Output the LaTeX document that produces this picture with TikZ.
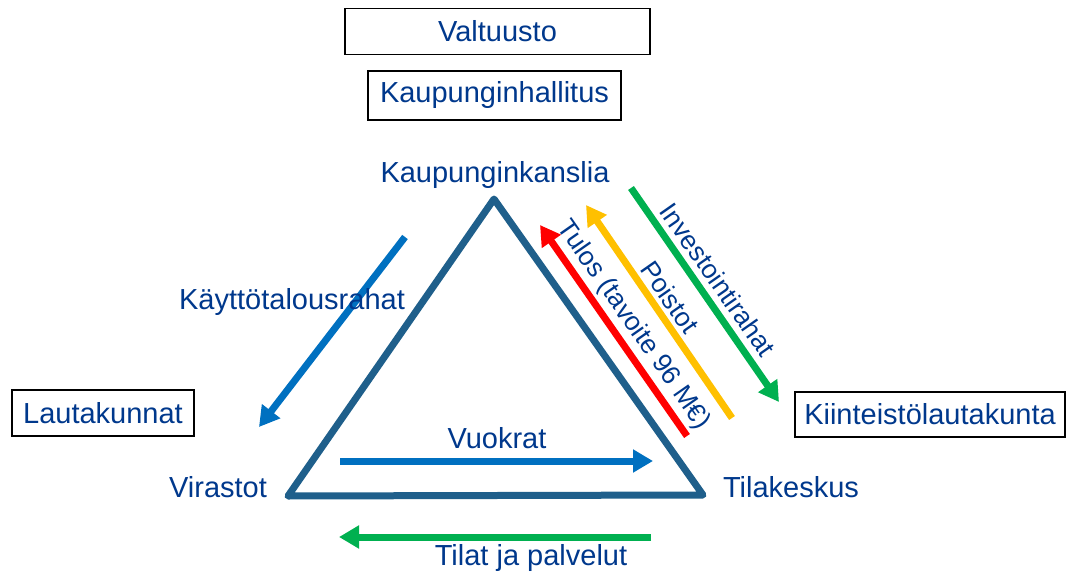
\documentclass[tikz,border=0pt]{standalone}
\usepackage{fontspec}
\setmainfont{Liberation Sans}
\usetikzlibrary{arrows.meta}
\definecolor{txtblue}{RGB}{0,56,140}
\definecolor{triblue}{RGB}{31,95,139}
\definecolor{arrblue}{RGB}{0,112,192}
\definecolor{arrgreen}{RGB}{0,176,80}
\definecolor{arryellow}{RGB}{255,192,0}
\definecolor{arrred}{RGB}{255,0,0}
\begin{document}
\begin{tikzpicture}[x=1pt,y=-1pt,
  lbl/.style={text=txtblue,font=\fontsize{29}{34}\selectfont,inner sep=0pt},
  rlbl/.style={text=txtblue,font=\fontsize{26.5}{30}\selectfont,inner sep=0pt,rotate=-55},
  boxed/.style={draw=black,line width=1.6pt,minimum height=46pt},
  flow/.style={line width=7pt,-{Triangle[length=20pt,width=22pt]}}]
\useasboundingbox (0,0) rectangle (1068,575);
% boxes
\node[lbl,boxed,minimum width=305pt] (valt) at (497.5,31.5) {Valtuusto};
\node[lbl,boxed,minimum width=253pt,minimum height=49pt] (kh) at (494.5,95.5) {Kaupunginhallitus};
\node[lbl,boxed,minimum width=182pt] (lauta) at (103,413) {Lautakunnat};
\node[lbl,boxed,minimum width=270pt,minimum height=45pt] (kiint) at (930,414.5) {Kiinteistölautakunta};
% corner labels
\node[lbl] (kk) at (495,175) {Kaupunginkanslia};
\node[lbl] (vir) at (218,487) {Virastot};
\node[lbl] (tila) at (791,487) {Tilakeskus};
% triangle
\coordinate (A) at (494,199);
\coordinate (B) at (288,496);
\coordinate (C) at (703,495);
\draw[triblue,line width=7pt,line join=round] (A) -- (B) -- (C) -- cycle;
% bottom arrows
\coordinate (v1) at (340,461); \coordinate (v2) at (653,461);
\draw[flow,arrblue] (v1) -- (v2);
\node[lbl] (vuok) at (497,438) {Vuokrat};
\coordinate (t1) at (651,537); \coordinate (t2) at (339,537);
\draw[flow,arrgreen] (t1) -- (t2);
\node[lbl] (tilat) at (531,558) {Tilat ja palvelut};
% left arrow
\coordinate (k1) at (405,237); \coordinate (k2) at (259,427);
\draw[flow,arrblue] (k1) -- (k2);
\node[lbl] (kt) at (292,302) {Käyttötalousrahat};
% right arrows
\coordinate (r1) at (687,436); \coordinate (r2) at (540,225);
\draw[flow,arrred] (r1) -- (r2);
\coordinate (y1) at (732,418); \coordinate (y2) at (586,205);
\draw[flow,arryellow] (y1) -- (y2);
\coordinate (g1) at (631,188); \coordinate (g2) at (779,402);
\draw[flow,arrgreen] (g1) -- (g2);
\node[rlbl] (tulos) at (633,325) {Tulos (tavoite 96 M€)};
\node[rlbl] (poist) at (670,297) {Poistot};
\node[rlbl] (inv) at (718,280) {Investointirahat};
\end{tikzpicture}
\end{document}
